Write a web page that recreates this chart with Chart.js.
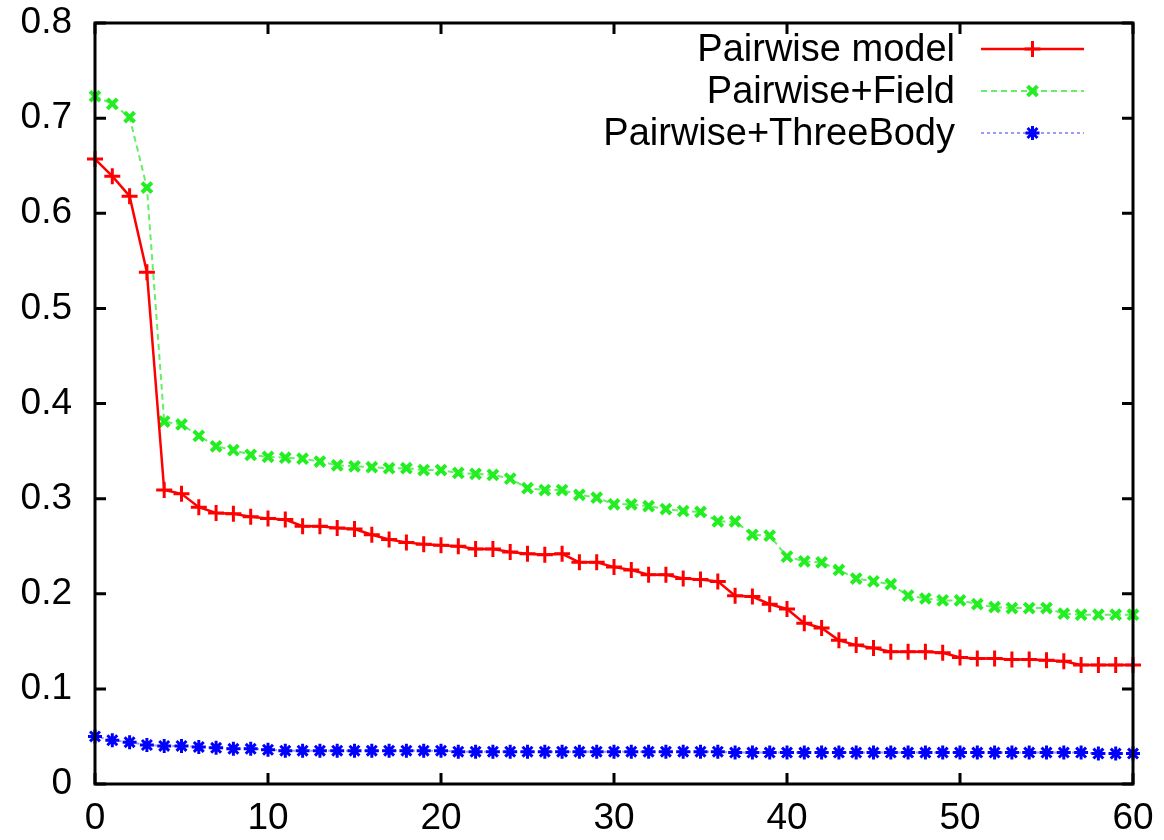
<!DOCTYPE html>
<html>
<head>
<meta charset="utf-8">
<script src="https://cdn.jsdelivr.net/npm/chart.js@4.4.1/dist/chart.umd.min.js"></script>
<style>
  html, body { margin: 0; padding: 0; background: #ffffff; }
  #wrap { width: 1164px; height: 840px; }
</style>
</head>
<body>
<div id="wrap"><canvas id="c" width="1164" height="840"></canvas></div>
<script>
// Iteration steps (x axis)
const steps = [
  0, 1, 2, 3, 4, 5, 6, 7, 8, 9,
  10, 11, 12, 13, 14, 15, 16, 17, 18, 19,
  20, 21, 22, 23, 24, 25, 26, 27, 28, 29,
  30, 31, 32, 33, 34, 35, 36, 37, 38, 39,
  40, 41, 42, 43, 44, 45, 46, 47, 48, 49,
  50, 51, 52, 53, 54, 55, 56, 57, 58, 59,
  60
];

// Pairwise model
const pairwise = [
  0.657, 0.639, 0.618, 0.538, 0.309, 0.305, 0.291, 0.285, 0.284, 0.281,
  0.279, 0.278, 0.271, 0.271, 0.269, 0.268, 0.262, 0.257, 0.254, 0.252,
  0.251, 0.250, 0.247, 0.247, 0.244, 0.242, 0.241, 0.242, 0.233, 0.233,
  0.228, 0.225, 0.220, 0.220, 0.216, 0.215, 0.213, 0.198, 0.197, 0.189,
  0.184, 0.169, 0.164, 0.151, 0.146, 0.143, 0.139, 0.139, 0.139, 0.138,
  0.133, 0.132, 0.132, 0.131, 0.131, 0.130, 0.129, 0.125, 0.125, 0.125,
  0.125
];

// Pairwise+Field
const pairwiseField = [
  0.723, 0.715, 0.701, 0.627, 0.381, 0.378, 0.366, 0.355, 0.351, 0.346,
  0.344, 0.343, 0.342, 0.339, 0.335, 0.334, 0.333, 0.332, 0.332, 0.330,
  0.330, 0.327, 0.326, 0.325, 0.321, 0.311, 0.309, 0.309, 0.304, 0.301,
  0.294, 0.294, 0.292, 0.289, 0.287, 0.286, 0.276, 0.276, 0.262, 0.261,
  0.239, 0.234, 0.233, 0.225, 0.216, 0.213, 0.210, 0.198, 0.195, 0.193,
  0.193, 0.189, 0.186, 0.185, 0.185, 0.185, 0.179, 0.178, 0.178, 0.178,
  0.178
];

// Pairwise+ThreeBody
const pairwiseThreeBody = [
  0.050, 0.046, 0.044, 0.041, 0.040, 0.040, 0.039, 0.038, 0.037, 0.037,
  0.036, 0.035, 0.035, 0.035, 0.035, 0.035, 0.035, 0.035, 0.035, 0.035,
  0.035, 0.034, 0.034, 0.034, 0.034, 0.034, 0.034, 0.034, 0.034, 0.034,
  0.034, 0.034, 0.034, 0.034, 0.034, 0.034, 0.034, 0.033, 0.033, 0.033,
  0.033, 0.033, 0.033, 0.033, 0.033, 0.033, 0.033, 0.033, 0.033, 0.033,
  0.033, 0.033, 0.033, 0.033, 0.033, 0.033, 0.033, 0.033, 0.032, 0.032,
  0.032
];

const seriesNames = ['Pairwise model', 'Pairwise+Field', 'Pairwise+ThreeBody'];
const xTicks = [0, 10, 20, 30, 40, 50, 60];
const yTicks = [0, 0.1, 0.2, 0.3, 0.4, 0.5, 0.6, 0.7, 0.8];

const FONT = "'Liberation Sans', Arial, Helvetica, sans-serif";

function toPoints(values) {
  return values.map((v, i) => ({ x: steps[i], y: v }));
}

// Marker shapes matching Chart.js point styles (used for the key samples)
function drawMarker(ctx, style, x, y, r) {
  const o = r * Math.SQRT1_2;
  ctx.beginPath();
  if (style === 'cross' || style === 'star') {
    ctx.moveTo(x, y - r); ctx.lineTo(x, y + r);
    ctx.moveTo(x - r, y); ctx.lineTo(x + r, y);
  }
  if (style === 'crossRot' || style === 'star') {
    ctx.moveTo(x - o, y - o); ctx.lineTo(x + o, y + o);
    ctx.moveTo(x - o, y + o); ctx.lineTo(x + o, y - o);
  }
  ctx.stroke();
}

// Frame with inward ticks on all four sides
const framePlugin = {
  id: 'frame',
  afterDatasetsDraw(chart) {
    const { ctx, chartArea: a, scales } = chart;
    ctx.save();
    ctx.strokeStyle = '#000000';
    ctx.lineWidth = 3;
    ctx.lineCap = 'butt';
    const tl = 11;
    ctx.beginPath();
    xTicks.forEach(v => {
      const px = scales.x.getPixelForValue(v);
      ctx.moveTo(px, a.bottom); ctx.lineTo(px, a.bottom - tl);
      ctx.moveTo(px, a.top); ctx.lineTo(px, a.top + tl);
    });
    yTicks.forEach(v => {
      const py = scales.y.getPixelForValue(v);
      ctx.moveTo(a.left, py); ctx.lineTo(a.left + tl, py);
      ctx.moveTo(a.right, py); ctx.lineTo(a.right - tl, py);
    });
    ctx.stroke();
    ctx.lineJoin = 'miter';
    ctx.strokeRect(a.left, a.top, a.right - a.left, a.bottom - a.top);
    ctx.restore();
  }
};

// Key in the upper right: right-aligned names with line samples after them
const keyPlugin = {
  id: 'key',
  afterDraw(chart) {
    const { ctx } = chart;
    const textRight = 955;
    const lineX0 = 981, lineX1 = 1084;
    const rowY0 = 51, rowGap = 42;
    ctx.save();
    chart.data.datasets.forEach((ds, i) => {
      const y = rowY0 + i * rowGap;
      ctx.font = '38px ' + FONT;
      ctx.fillStyle = '#000000';
      ctx.textAlign = 'right';
      ctx.textBaseline = 'middle';
      ctx.fillText(ds.label, textRight, y);
      ctx.strokeStyle = ds.borderColor;
      ctx.lineWidth = ds.borderWidth;
      ctx.setLineDash(ds.borderDash || []);
      ctx.beginPath();
      ctx.moveTo(lineX0, y - 2); ctx.lineTo(lineX1, y - 2);
      ctx.stroke();
      ctx.setLineDash([]);
      ctx.strokeStyle = ds.pointBorderColor;
      ctx.lineWidth = ds.pointBorderWidth;
      drawMarker(ctx, ds.pointStyle, (lineX0 + lineX1) / 2, y - 2, ds.pointRadius);
    });
    ctx.restore();
  }
};

const config = {
  type: 'line',
  data: {
    datasets: [
      {
        label: seriesNames[0],
        data: toPoints(pairwise),
        borderColor: '#ff0000',
        borderWidth: 2.5,
        pointStyle: 'cross',
        pointRadius: 8,
        pointBorderWidth: 3,
        pointBorderColor: '#ff0000',
        pointBackgroundColor: '#ff0000',
        tension: 0,
        clip: false
      },
      {
        label: seriesNames[1],
        data: toPoints(pairwiseField),
        borderColor: '#66ee66',
        borderWidth: 2,
        borderDash: [6, 4],
        pointStyle: 'crossRot',
        pointRadius: 7,
        pointBorderWidth: 4,
        pointBorderColor: '#22ee22',
        pointBackgroundColor: '#22ee22',
        tension: 0,
        clip: false
      },
      {
        label: seriesNames[2],
        data: toPoints(pairwiseThreeBody),
        borderColor: '#9999ff',
        borderWidth: 2,
        borderDash: [3, 3],
        pointStyle: 'star',
        pointRadius: 7,
        pointBorderWidth: 3,
        pointBorderColor: '#0000ff',
        pointBackgroundColor: '#0000ff',
        tension: 0,
        clip: false
      }
    ]
  },
  options: {
    responsive: false,
    animation: false,
    devicePixelRatio: 1,
    layout: { padding: { top: 23, right: 31, left: 0, bottom: 0 } },
    plugins: {
      legend: { display: false },
      tooltip: { enabled: false }
    },
    scales: {
      x: {
        type: 'linear',
        min: 0,
        max: 60,
        afterBuildTicks(scale) { scale.ticks = xTicks.map(v => ({ value: v })); },
        afterFit(scale) {
          scale.height = 56;
          scale.paddingLeft = 0;
          scale.paddingRight = 0;
        },
        grid: { display: false, drawTicks: false },
        border: { display: false },
        ticks: {
          color: '#000000',
          padding: 13,
          maxRotation: 0,
          autoSkip: false,
          font: { family: FONT, size: 37 }
        }
      },
      y: {
        type: 'linear',
        min: 0,
        max: 0.8,
        afterBuildTicks(scale) { scale.ticks = yTicks.map(v => ({ value: v })); },
        afterFit(scale) {
          scale.width = 95;
          scale.paddingTop = 0;
          scale.paddingBottom = 0;
        },
        grid: { display: false, drawTicks: false },
        border: { display: false },
        ticks: {
          color: '#000000',
          padding: 23,
          autoSkip: false,
          font: { family: FONT, size: 37 },
          callback: v => (v === 0 ? '0' : Number(v).toFixed(1))
        }
      }
    }
  },
  plugins: [framePlugin, keyPlugin]
};

new Chart(document.getElementById('c'), config);
</script>
</body>
</html>
